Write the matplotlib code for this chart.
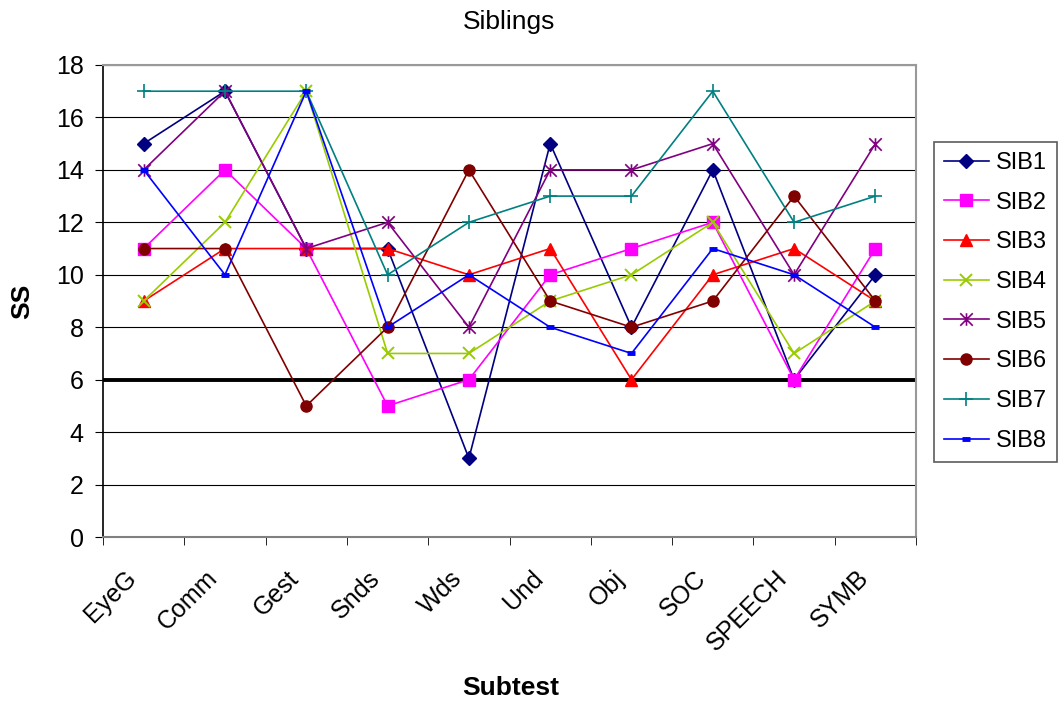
import matplotlib
matplotlib.use("Agg")
import matplotlib.pyplot as plt
import numpy as np
from matplotlib.path import Path
from matplotlib.transforms import ScaledTranslation

plt.rcParams["font.family"] = ["Liberation Sans", "DejaVu Sans"]

subtests = ["EyeG", "Comm", "Gest", "Snds", "Wds", "Und", "Obj", "SOC", "SPEECH", "SYMB"]

sib1 = [15, 17, 11, 11, 3, 15, 8, 14, 6, 10]
sib2 = [11, 14, 11, 5, 6, 10, 11, 12, 6, 11]
sib3 = [9, 11, 11, 11, 10, 11, 6, 10, 11, 9]
sib4 = [9, 12, 17, 7, 7, 9, 10, 12, 7, 9]
sib5 = [14, 17, 11, 12, 8, 14, 14, 15, 10, 15]
sib6 = [11, 11, 5, 8, 14, 9, 8, 9, 13, 9]
sib7 = [17, 17, 17, 10, 12, 13, 13, 17, 12, 13]
sib8 = [14, 10, 17, 8, 10, 8, 7, 11, 10, 8]

cutoff = 6

# Excel-style star: an X with a vertical bar through it
star = Path([(0, -1), (0, 1), (-1, -1), (1, 1), (-1, 1), (1, -1)],
            [Path.MOVETO, Path.LINETO, Path.MOVETO, Path.LINETO, Path.MOVETO, Path.LINETO])

series = [
    ("SIB1", sib1, "#000080", dict(marker="D", ms=7)),
    ("SIB2", sib2, "#FF00FF", dict(marker="s", ms=8)),
    ("SIB3", sib3, "#FF0000", dict(marker="^", ms=9)),
    ("SIB4", sib4, "#99CC00", dict(marker="x", ms=8, mew=1.4)),
    ("SIB5", sib5, "#800080", dict(marker=star, ms=9, mew=1.2, mfc="none")),
    ("SIB6", sib6, "#800000", dict(marker="o", ms=8)),
    ("SIB7", sib7, "#008080", dict(marker="+", ms=10, mew=1.2)),
    ("SIB8", sib8, "#0000FF", dict(marker="_", ms=6, mew=3.5)),
]

fig = plt.figure(figsize=(10.6, 7.04), dpi=100)
ax = fig.add_axes([0.0972, 0.2372, 0.767, 0.6705])

x = np.arange(len(subtests))
for name, vals, color, mk in series:
    ax.plot(x, vals, color=color, lw=1.2, label=name, **mk)

ax.axhline(cutoff, color="black", lw=2.8, zorder=1)

ax.set_ylim(0, 18)
ax.set_yticks(range(0, 19, 2))
ax.set_xlim(-0.5, len(subtests) - 0.5)
ax.yaxis.grid(True, color="black", lw=0.8, zorder=0)
ax.set_axisbelow(True)

# category labels centred, tick marks between categories
ax.set_xticks(x)
ax.set_xticklabels(subtests, rotation=45, ha="right", va="center", rotation_mode="anchor")
ax.tick_params(axis="x", length=0, labelsize=18, pad=27)
shift = ScaledTranslation(-11 / 100, 0, fig.dpi_scale_trans)
for lbl in ax.get_xticklabels():
    lbl.set_transform(lbl.get_transform() + shift)
ax.set_xticks(np.arange(-0.5, len(subtests)), minor=True)
ax.tick_params(axis="x", which="minor", length=6, direction="out", color="black")
ax.tick_params(axis="y", length=6, labelsize=18, direction="out", pad=8)

for side in ["top", "right"]:
    ax.spines[side].set_color("#999999")
    ax.spines[side].set_linewidth(1.5)
ax.spines["left"].set_linewidth(1.2)
ax.spines["bottom"].set_color("#808080")
ax.spines["bottom"].set_linewidth(1.5)

fig.text(509.5 / 1060, 1 - 22 / 704, "Siblings", fontsize=19, ha="center", va="center")
fig.text(22 / 1060, 1 - 301 / 704, "SS", fontsize=19, fontweight="bold",
         rotation=90, ha="center", va="center")
fig.text(511 / 1060, 1 - 688 / 704, "Subtest", fontsize=19, fontweight="bold",
         ha="center", va="center")

leg = ax.legend(loc="upper left", bbox_to_anchor=(934 / 1060, 1 - 142 / 704),
                bbox_transform=fig.transFigure, borderaxespad=0,
                fontsize=17, frameon=True, fancybox=False, edgecolor="#333333",
                handlelength=1.9, borderpad=0.42, labelspacing=0.75, handletextpad=0.3)
leg.get_frame().set_linewidth(1.2)

fig.savefig("out.png", dpi=100)
